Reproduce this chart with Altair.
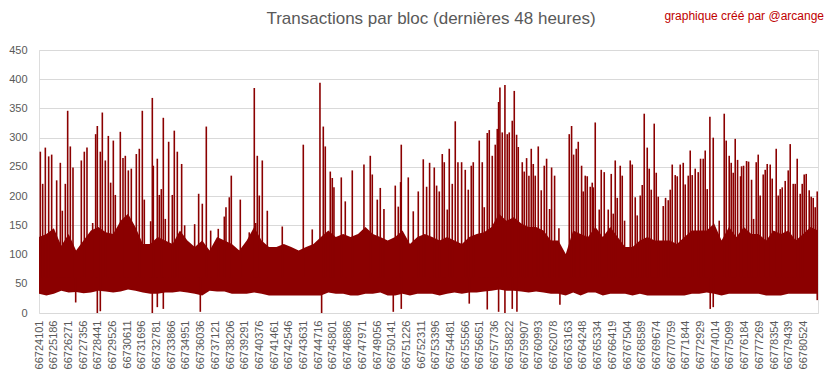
import altair as alt
import numpy as np
import pandas as pd

TITLE = "Transactions par bloc (dernières 48 heures)"
CREDIT = "graphique créé par @arcange"

FIRST_BLOCK = 66724101
LAST_BLOCK = 66781600

TICK_BLOCKS = [
    66724101, 66725186, 66726271, 66727356, 66728441, 66729526, 66730611, 66731696,
    66732781, 66733866, 66734951, 66736036, 66737121, 66738206, 66739291, 66740376,
    66741461, 66742546, 66743631, 66744716, 66745801, 66746886, 66747971, 66749056,
    66750141, 66751226, 66752311, 66753396, 66754481, 66755566, 66756651, 66757736,
    66758822, 66759907, 66760993, 66762078, 66763163, 66764248, 66765334, 66766419,
    66767504, 66768589, 66769674, 66770759, 66771844, 66772929, 66774014, 66775099,
    66776184, 66777269, 66778354, 66779439, 66780524,
]
Y_TICKS = [0, 50, 100, 150, 200, 250, 300, 350, 400, 450]

# dense band of the series (upper and lower envelope), left to right
BODY_HIGH = [
    130, 135, 145, 115, 135, 107, 124, 141, 147, 138, 135, 158, 170, 147, 118, 118, 130, 124, 118, 141, 124, 113,
    124, 107, 130, 124, 118, 107, 124, 147, 124, 113, 113, 118, 113, 107, 113, 118, 130, 141, 130, 135, 130, 135, 147, 135, 130,
    124, 130, 141, 118, 130, 135, 130, 124, 130, 124, 118, 130, 135, 138, 147, 170, 158, 164, 153, 147, 147, 141, 124, 124, 101, 141,
    135, 130, 147, 130, 147, 130, 113, 113, 124, 130, 124, 124, 124, 118, 130, 141, 141, 141, 153, 124, 147, 130, 147, 135, 135, 124,
    141, 135, 141, 124, 135, 147, 141,
]
BODY_LOW = [
    33, 30, 33, 38, 35, 36, 34, 35, 38, 37, 35, 37, 40, 38, 35, 33, 33, 35, 35, 37, 35, 33,
    30, 38, 37, 37, 33, 33, 33, 35, 33, 30, 30, 30, 30, 30, 30, 30, 30, 35, 33, 33, 30, 30, 33, 33, 35,
    30, 30, 33, 30, 33, 33, 33, 30, 33, 35, 33, 35, 35, 37, 38, 40, 38, 38, 37, 35, 37, 35, 33, 33, 30, 35,
    30, 35, 35, 30, 33, 33, 33, 30, 33, 30, 30, 30, 30, 30, 30, 33, 33, 35, 33, 30, 33, 33, 33, 33, 33, 30,
    30, 30, 33, 33, 33, 33, 33,
]

# isolated peaks (block number, transactions)
SPIKE_BLOCKS = [
    66724199, 66724372, 66724568, 66724815, 66725036, 66725405, 66725675, 66725823, 66726044, 66726217,
    66726413, 66726610, 66727225, 66727446, 66727643, 66728062, 66728283, 66728406, 66728627, 66728775,
    66728996, 66729218, 66729390, 66729587, 66729734, 66730103, 66730300, 66730472, 66730694, 66730915,
    66731284, 66731505, 66731727, 66731874, 66732342, 66732465, 66732539, 66732834, 66732981, 66733129,
    66733277, 66733424, 66733671, 66733941, 66734088, 66734310, 66734630, 66734851, 66735589, 66735885,
    66736155, 66736450, 66736772, 66737333, 66737779, 66737902, 66738147, 66738295, 66738959, 66739621,
    66739992, 66740093, 66740214, 66740361, 66740583, 66740952, 66742057, 66743609, 66744271, 66744839,
    66745085, 66745232, 66745601, 66745749, 66745872, 66746413, 66746708, 66747225, 66748086, 66748553,
    66748701, 66749070, 66749291, 66749562, 66750398, 66750620, 66750792, 66750841, 66751358, 66751727,
    66752096, 66752465, 66752711, 66752932, 66753277, 66753449, 66753646, 66753867, 66754014, 66754236,
    66754383, 66754605, 66754826, 66755023, 66755294, 66755564, 66755786, 66756007, 66756155, 66756597,
    66756819, 66756966, 66757188, 66757335, 66757557, 66757778, 66757926, 66758025, 66758123, 66758295,
    66758492, 66758664, 66758811, 66759033, 66759181, 66759353, 66759476, 66759771, 66759918, 66760091,
    66760263, 66760435, 66760583, 66760730, 66760952, 66761173, 66761394, 66761567, 66761788, 66761936,
    66762157, 66762477, 66763239, 66763412, 66763560, 66763756, 66763904, 66764150, 66764273, 66764420,
    66764568, 66764789, 66764937, 66765011, 66765158, 66765453, 66765601, 66765822, 66766118, 66766339,
    66766487, 66766634, 66766782, 66767003, 66767151, 66767323, 66767741, 66767889, 66768110, 66768258,
    66768479, 66768627, 66768774, 66768996, 66769143, 66769291, 66769512, 66769660, 66769808, 66770177,
    66770349, 66770546, 66770693, 66770841, 66771062, 66771210, 66771431, 66771653, 66771800, 66772022,
    66772169, 66772317, 66772538, 66772760, 66772932, 66773129, 66773276, 66773424, 66773621, 66773867,
    66774309, 66774679, 66774826, 66775047, 66775195, 66775343, 66775490, 66775663, 66775884, 66775958,
    66776106, 66776327, 66776475, 66776696, 66776844, 66777040, 66777188, 66777335, 66777557, 66777704,
    66777852, 66778073, 66778221, 66778516, 66778664, 66778811, 66778959, 66779180, 66779402, 66779549,
    66779771, 66779918, 66780066, 66780287, 66780435, 66780582, 66780730, 66780951, 66781099, 66781247,
    66781394, 66781542,
]
SPIKE_VALUES = [
    276, 221, 283, 268, 271, 227, 257, 175, 221, 346,
    285, 249, 261, 276, 283, 154, 306, 320, 276, 343,
    261, 303, 223, 295, 202, 310, 265, 269, 244, 247,
    272, 281, 346, 194, 157, 368, 252, 264, 202, 212,
    334, 161, 293, 202, 312, 276, 255, 150, 152, 204,
    187, 319, 141, 144, 165, 181, 198, 235, 194, 138,
    385, 154, 269, 201, 261, 175, 148, 288, 143, 394,
    319, 285, 242, 231, 215, 232, 191, 244, 254, 269,
    237, 194, 214, 178, 218, 182, 224, 288, 232, 174,
    208, 263, 216, 257, 249, 218, 208, 272, 258, 177,
    281, 221, 328, 258, 258, 245, 211, 252, 258, 295,
    258, 181, 308, 313, 269, 288, 315, 361, 386, 309,
    390, 306, 309, 329, 380, 305, 284, 258, 242, 265,
    235, 281, 255, 235, 285, 210, 252, 264, 178, 249,
    235, 145, 306, 320, 271, 281, 293, 252, 208, 235,
    234, 216, 223, 215, 326, 177, 245, 241, 177, 238,
    170, 261, 197, 252, 235, 158, 261, 254, 198, 167,
    201, 219, 341, 283, 247, 211, 324, 240, 199, 183,
    197, 193, 211, 254, 236, 234, 254, 257, 220, 235,
    278, 236, 247, 241, 264, 264, 278, 212, 336, 300,
    158, 341, 295, 269, 257, 240, 298, 262, 234, 251,
    252, 260, 259, 228, 161, 258, 271, 201, 237, 245,
    255, 254, 230, 281, 201, 212, 215, 226, 244, 289,
    221, 221, 264, 204, 221, 237, 238, 210, 199, 197,
    181, 208,
]

# isolated drops (block number, transactions)
DIP_BLOCKS = [
    66726809, 66728406, 66728627, 66732465, 66732834, 66733277, 66736007, 66744962, 66750251, 66750841,
    66755859, 66757188, 66758025, 66758492, 66759033, 66759377, 66762551, 66773645, 66773867, 66781542,
]
DIP_VALUES = [18, 0, 3, 0, 10, 7, 2, 0, 2, 7, 16, 6, 2, 0, 7, 2, 14, 7, 10, 22]

RED = "#8B0000"
GREY_TEXT = "#595959"
GRID = "#d9d9d9"
FONT = "Liberation Sans"

body = pd.DataFrame({
    "block": np.linspace(FIRST_BLOCK, LAST_BLOCK, len(BODY_HIGH)),
    "high": BODY_HIGH,
    "low": BODY_LOW,
})
spikes = pd.DataFrame({"block": SPIKE_BLOCKS, "value": SPIKE_VALUES})
dips = pd.DataFrame({"block": DIP_BLOCKS, "value": DIP_VALUES})
labels = pd.DataFrame({"t": [TITLE, CREDIT], "kind": ["title", "credit"]})

xscale = alt.Scale(domain=[FIRST_BLOCK, LAST_BLOCK], nice=False, zero=False)
yscale = alt.Scale(domain=[0, 450], nice=False)

xaxis = alt.Axis(
    values=TICK_BLOCKS, tickCount=len(TICK_BLOCKS) + 5, format="d", labelAngle=-90,
    grid=False, ticks=False, domain=False,
    labelPadding=7, labelFont=FONT, labelFontSize=11, labelColor=GREY_TEXT, title=None,
    labelOverlap=False, labelFlush=False,
)
yaxis = alt.Axis(
    values=Y_TICKS, tickCount=len(Y_TICKS) + 2, grid=True, gridColor=GRID, domain=False, ticks=False,
    labelPadding=12, labelFont=FONT, labelFontSize=11, labelColor=GREY_TEXT, title=None,
    labelOverlap=False, labelFlush=False,
)

band = alt.Chart(body).mark_area(color=RED, interpolate="linear").encode(
    x=alt.X("block:Q", scale=xscale, axis=xaxis),
    y=alt.Y("low:Q", scale=yscale, axis=yaxis),
    y2="high:Q",
)

peaks = alt.Chart(spikes).mark_rule(color=RED, strokeWidth=1.6).encode(
    x="block:Q",
    y="value:Q",
    y2=alt.datum(60),
)

drops = alt.Chart(dips).mark_rule(color=RED, strokeWidth=1.6).encode(
    x="block:Q",
    y="value:Q",
    y2=alt.datum(60),
)

title_text = alt.Chart(labels).transform_filter(alt.datum.kind == "title").mark_text(
    align="center", baseline="middle", color=GREY_TEXT, font=FONT, fontSize=17
).encode(text="t:N", x=alt.value(392), y=alt.value(-31))

credit_text = alt.Chart(labels).transform_filter(alt.datum.kind == "credit").mark_text(
    align="right", baseline="middle", color="#C00000", font=FONT, fontSize=12
).encode(text="t:N", x=alt.value(785), y=alt.value(-34))

chart = alt.layer(band, peaks, drops, title_text, credit_text).properties(
    width=779,
    height=263,
    padding={"left": 31, "top": 42, "right": 7, "bottom": 58},
    autosize=alt.AutoSizeParams(type="none"),
).configure_view(stroke=None).configure(background="white")

chart.save("out.html", embed_options={"renderer": "svg", "actions": False})
